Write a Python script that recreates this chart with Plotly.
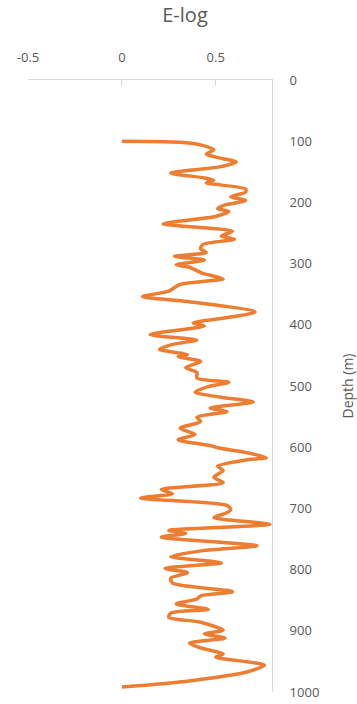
import plotly.graph_objects as go

# E-log reading versus depth
depth_m = [100, 102, 106, 114, 121, 126, 134, 142, 152, 160, 164, 168, 178, 183, 191, 197,
           204, 210, 215, 223, 235, 247, 255, 260, 269, 276, 282, 288, 294, 302, 306, 316,
           319, 325, 334, 345, 354, 362, 379, 387, 397, 402, 416, 425, 432, 440, 449, 452,
           460, 470, 478, 487, 494, 501, 510, 518, 526, 536, 542, 551, 558, 569, 579, 588,
           598, 601, 608, 617, 621, 631, 638, 649, 658, 669, 676, 683, 695, 702, 707, 715,
           726, 736, 741, 747, 761, 769, 779, 789, 798, 805, 814, 822, 836, 843, 848, 856,
           865, 871, 878, 886, 899, 905, 912, 920, 928, 938, 943, 956, 967, 982, 992]
elog = [0.00, 0.33, 0.42, 0.49, 0.45, 0.50, 0.61, 0.52, 0.26, 0.44, 0.49, 0.45, 0.66, 0.66, 0.58, 0.66,
        0.55, 0.51, 0.57, 0.50, 0.22, 0.59, 0.53, 0.60, 0.43, 0.42, 0.45, 0.28, 0.44, 0.29, 0.36, 0.43,
        0.47, 0.54, 0.31, 0.25, 0.11, 0.35, 0.71, 0.59, 0.38, 0.44, 0.15, 0.40, 0.27, 0.20, 0.35, 0.30,
        0.42, 0.34, 0.40, 0.40, 0.57, 0.46, 0.39, 0.52, 0.70, 0.47, 0.56, 0.40, 0.42, 0.31, 0.39, 0.30,
        0.48, 0.51, 0.65, 0.77, 0.66, 0.51, 0.54, 0.49, 0.54, 0.21, 0.27, 0.10, 0.56, 0.58, 0.56, 0.49,
        0.79, 0.25, 0.34, 0.21, 0.72, 0.43, 0.26, 0.53, 0.23, 0.35, 0.26, 0.27, 0.59, 0.42, 0.40, 0.29,
        0.46, 0.26, 0.25, 0.42, 0.54, 0.44, 0.55, 0.36, 0.42, 0.54, 0.50, 0.76, 0.67, 0.36, 0.00]

x_ticks = [-0.5, 0, 0.5]
x_tick_text = ["-0.5", "0", "0.5"]
depth_ticks = list(range(0, 1001, 100))

grey_text = "#595959"
axis_grey = "#d9d9d9"
font_family = "Open Sans, Liberation Sans, sans-serif"

fig = go.Figure(
    go.Scatter(
        x=elog,
        y=depth_m,
        mode="lines",
        line=dict(color="#ED7D31", width=3.5, shape="spline", smoothing=0.7),
        showlegend=False,
        hoverinfo="skip",
    )
)

fig.update_layout(
    width=357,
    height=704,
    margin=dict(l=28, r=85, t=80, b=12),
    paper_bgcolor="white",
    plot_bgcolor="white",
    font=dict(family=font_family, color=grey_text, size=13),
    title=dict(
        text="E-log",
        font=dict(size=20, color=grey_text, family=font_family),
        x=185 / 357,
        xref="container",
        xanchor="center",
        y=1 - 15 / 704,
        yref="container",
        yanchor="middle",
    ),
    xaxis=dict(
        side="top",
        range=[-0.5, 0.8],
        tickvals=x_ticks,
        ticktext=x_tick_text,
        showgrid=False,
        zeroline=False,
        showline=True,
        linecolor=axis_grey,
        linewidth=1,
        ticks="inside",
        ticklen=6,
        tickcolor=axis_grey,
        ticklabelstandoff=12,
        tickfont=dict(size=13, color=grey_text),
        automargin=False,
    ),
    yaxis=dict(
        side="right",
        range=[1000, 0],
        tickvals=depth_ticks,
        showgrid=False,
        zeroline=False,
        showline=True,
        linecolor=axis_grey,
        linewidth=1,
        ticks="",
        ticklabelstandoff=14,
        tickfont=dict(size=13, color=grey_text),
        title=dict(text="Depth (m)", font=dict(size=14, color=grey_text), standoff=24),
        automargin=False,
    ),
)

fig.write_html("out.html")
